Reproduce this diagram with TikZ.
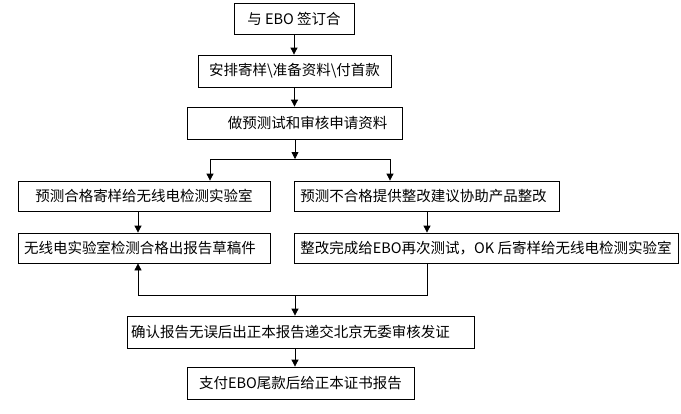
\documentclass[tikz,border=0pt]{standalone}
\usepackage{fontspec}
\setmainfont{Noto Sans CJK SC}
\usetikzlibrary{arrows.meta}
\begin{document}
\begin{tikzpicture}[x=1pt,y=-1pt,
  box/.style={draw=black,line width=0.8pt,inner sep=0pt,font=\fontsize{14.5pt}{16pt}\selectfont,anchor=center},
  line/.style={draw=black,line width=0.8pt},
  arr/.style={line,-{Triangle[length=7pt,width=7pt]}}]
\useasboundingbox (0,0) rectangle (681,413);
\fill[white] (0,0) rectangle (681,413);
\node[box,minimum width=120pt,minimum height=31pt] (b1) at (294,18.5) {与 EBO 签订合};
\node[box,minimum width=193pt,minimum height=32pt] (b2) at (294.5,71) {安排寄样\textbackslash 准备资料\textbackslash 付首款};
\node[box,minimum width=215pt,minimum height=32pt] (b3) at (294.5,123) {\hspace*{26pt}做预测试和审核申请资料};
\node[box,minimum width=252pt,minimum height=30pt] (A) at (144,196) {预测合格寄样给无线电检测实验室};
\node[box,minimum width=252pt,minimum height=30pt] (B) at (144,248) {无线电实验室检测合格出报告草稿件\hspace*{8pt}};
\node[box,minimum width=265pt,minimum height=30pt] (C) at (426.5,196) {预测不合格提供整改建议协助产品整改\hspace*{6pt}};
\node[box,minimum width=384pt,minimum height=30pt] (D) at (486,248) {整改完成给EBO再次测试，OK 后寄样给无线电检测实验室};
\node[box,minimum width=347pt,minimum height=32pt] (E) at (300.5,332) {确认报告无误后出正本报告递交北京无委审核发证\hspace*{20pt}};
\node[box,minimum width=227pt,minimum height=32pt] (F) at (300.5,383) {支付EBO尾款后给正本证书报告};
\coordinate (sp) at (295,159);
\coordinate (xl) at (210,0);
\coordinate (xr) at (390,0);
\coordinate (xb) at (138,0);
\coordinate (xd) at (427,0);
\coordinate (mj) at (295,295);
\draw[arr] (b1.south) -- (b1.south |- b2.north);
\draw[arr] (b2.south) -- (b2.south |- b3.north);
\draw[arr] (b3.south -| sp) -- (sp);
\draw[line] (sp -| xl) -- (sp -| xr);
\draw[arr] (sp -| xl) -- (A.north -| xl);
\draw[arr] (sp -| xr) -- (C.north -| xr);
\draw[arr] (A.south -| xb) -- (B.north -| xb);
\draw[arr] (C.south -| xd) -- (D.north -| xd);
\draw[line] (D.south -| xd) -- (mj -| xd) -- (mj -| xb);
\draw[arr] (mj -| xb) -- (B.south -| xb);
\draw[arr] (mj) -- (E.north -| mj);
\draw[arr] (E.south -| mj) -- (F.north -| mj);
\end{tikzpicture}
\end{document}
